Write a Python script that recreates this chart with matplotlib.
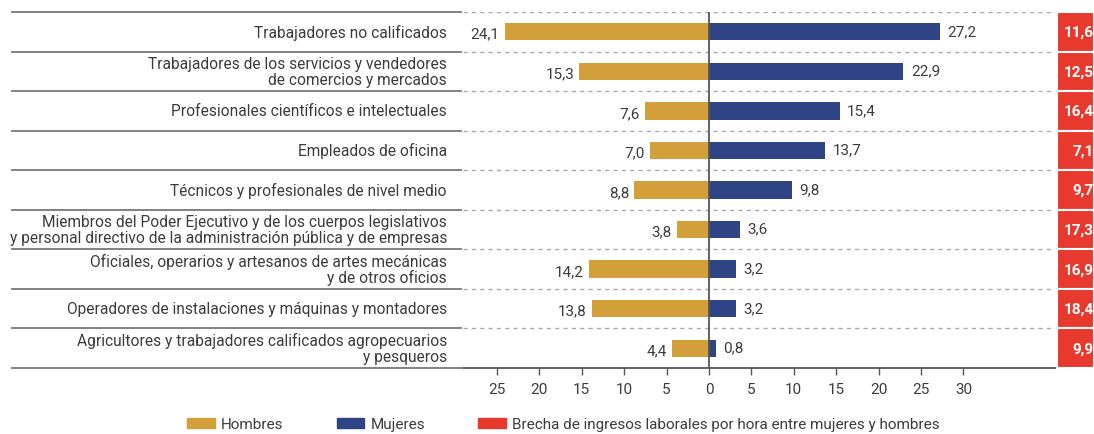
import matplotlib
matplotlib.use("Agg")
import matplotlib.pyplot as plt
from matplotlib.patches import Patch
from matplotlib.transforms import blended_transform_factory
import numpy as np

categories = [
    "Trabajadores no calificados",
    "Trabajadores de los servicios y vendedores\nde comercios y mercados",
    "Profesionales científicos e intelectuales",
    "Empleados de oficina",
    "Técnicos y profesionales de nivel medio",
    "Miembros del Poder Ejecutivo y de los cuerpos legislativos\ny personal directivo de la administración pública y de empresas",
    "Oficiales, operarios y artesanos de artes mecánicas\ny de otros oficios",
    "Operadores de instalaciones y máquinas y montadores",
    "Agricultores y trabajadores calificados agropecuarios\ny pesqueros",
]
hombres = [24.1, 15.3, 7.6, 7.0, 8.8, 3.8, 14.2, 13.8, 4.4]
mujeres = [27.2, 22.9, 15.4, 13.7, 9.8, 3.6, 3.2, 3.2, 0.8]
brecha = [11.6, 12.5, 16.4, 7.1, 9.7, 17.3, 16.9, 18.4, 9.9]
xticks = [-25, -20, -15, -10, -5, 0, 5, 10, 15, 20, 25, 30]

C_H = "#D29F3A"
C_M = "#2E4485"
C_R = "#E8392E"
TXT = "#3c3c3c"

plt.rcParams['font.family'] = ['Roboto', 'DejaVu Sans']

W, H = 1094, 435
fig = plt.figure(figsize=(W / 100, H / 100), dpi=100)

def fx(px):
    return px / W

def fy(py):
    return 1 - py / H

top, bot = 13, 369
ax = fig.add_axes([fx(463), fy(bot), fx(1055) - fx(463), fy(top) - fy(bot)])
n = len(categories)
y = np.arange(n)
ppu = 8.48
ax.set_xlim(-(709 - 463) / ppu, (1055 - 709) / ppu)
ax.set_ylim(n - 0.5, -0.5)

bh = 0.44
ax.barh(y, [-v for v in hombres], height=bh, color=C_H, zorder=3)
ax.barh(y, mujeres, height=bh, color=C_M, zorder=3)
ax.axvline(0, color="#555555", lw=1.3, zorder=4)

for i in range(n):
    ax.text(-hombres[i] - 0.6, i + 0.05, f"{hombres[i]:.1f}".replace(".", ","),
            ha="right", va="center", fontsize=11, color=TXT)
    ax.text(mujeres[i] + 0.9, i - 0.02, f"{mujeres[i]:.1f}".replace(".", ","),
            ha="left", va="center", fontsize=11, color=TXT)

for b in np.arange(-0.5, n - 0.5, 1.0):
    ax.axhline(b, color="#aaaaaa", lw=1.0, ls=(0, (3, 3)), zorder=1)

for s in ["top", "left", "right"]:
    ax.spines[s].set_visible(False)
ax.spines["bottom"].set_color("#555555")
ax.spines["bottom"].set_linewidth(1.3)
ax.set_yticks([])
ax.set_xticks(xticks)
ax.set_xticklabels([str(abs(t)) for t in xticks], fontsize=11, color=TXT)
ax.tick_params(axis="x", length=5, width=1, color="#555555", pad=5)

# label area with solid separators
tr = blended_transform_factory(fig.transFigure, ax.transData)
for b in np.arange(-0.5, n + 0.5, 1.0):
    ax.plot([fx(12), fx(461)], [b, b], transform=tr, color="#777777", lw=1.3,
            clip_on=False, zorder=2)
for i, c in enumerate(categories):
    ax.text(fx(447), i, c, transform=tr, ha="right", va="center", fontsize=11.2,
            color=TXT, linespacing=1.05)

# red gap column
axr = fig.add_axes([fx(1057), fy(bot), 1 - fx(1057), fy(top) - fy(bot)])
axr.barh(y, [1] * n, height=1.0, color=C_R, edgecolor="white", linewidth=1.5)
axr.set_xlim(0, 1)
axr.set_ylim(n - 0.5, -0.5)
axr.axis("off")
for i, v in enumerate(brecha):
    axr.text(0.99, i, f"{v:.1f}".replace(".", ","), ha="right", va="center",
             fontsize=11, color="white", fontweight="bold")

handles = [Patch(color=C_H, label="Hombres"), Patch(color=C_M, label="Mujeres"),
           Patch(color=C_R, label="Brecha de ingresos laborales por hora entre mujeres y hombres")]
fig.legend(handles=handles, loc="center", bbox_to_anchor=(0.515, fy(425)), ncol=3,
           frameon=False, fontsize=11, handlelength=1.8, handleheight=0.65,
           columnspacing=3.5, handletextpad=0.4, labelcolor=TXT)

fig.savefig("out.png", dpi=100)
